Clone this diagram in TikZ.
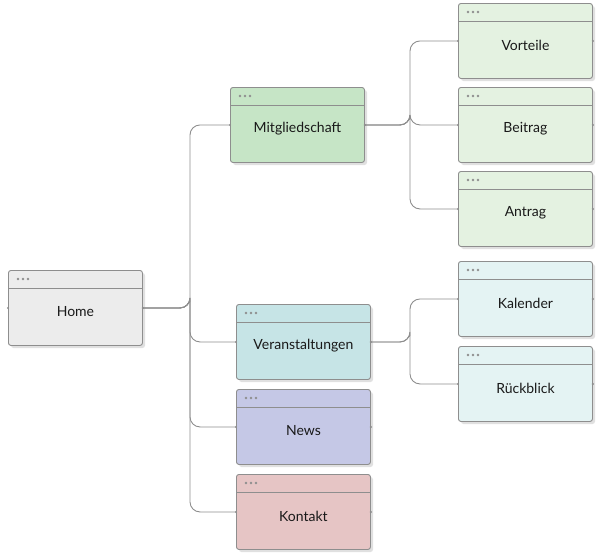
\documentclass[tikz,border=0pt]{standalone}
\usepackage{fontspec}
\setmainfont{Lato}
\begin{document}
\definecolor{cgray}{HTML}{ECECEC}
\definecolor{cgreen}{HTML}{C6E5C6}
\definecolor{clgreen}{HTML}{E4F2E1}
\definecolor{ccyan}{HTML}{C6E4E6}
\definecolor{clcyan}{HTML}{E4F3F3}
\definecolor{cnews}{HTML}{C5C8E6}
\definecolor{ckont}{HTML}{E6C5C5}
\definecolor{edge}{HTML}{8E8E8E}
\tikzset{
 box/.style={draw=edge,line width=0.9pt,rounded corners=2.5pt,minimum width=134pt,minimum height=75pt,inner sep=0pt},
 shadow/.style={fill=black!12,rounded corners=2.5pt,draw=none},
 lbl/.style={font=\fontsize{14}{16}\selectfont,text=black!90},
 conn/.style={draw=edge,line width=0.9pt,rounded corners=10pt},
 dot/.style={fill=edge,circle,inner sep=0pt,minimum size=2.4pt}
}
\newcommand{\webbox}[5]{%
 \fill[shadow] (#2+3,#3+3) rectangle ++(134,75);
 \node[box,fill=#4,anchor=north west] (#1) at (#2,#3) {};
 \draw[edge,line width=0.9pt] ([yshift=-18pt]#1.north west) -- ([yshift=-18pt]#1.north east);
 \foreach \i in {0,1,2} \fill[edge] ([xshift={10pt+\i*5pt},yshift=-9pt]#1.north west) circle (1.3pt);
 \node[lbl] (#1t) at ([yshift=-4pt]#1.center) {#5};
 \node[dot] at (#1.west) {};
 \node[dot] at (#1.east) {};
}
\begin{tikzpicture}[x=1pt,y=-1pt]
\useasboundingbox (0,0) rectangle (600,555);
\webbox{home}{8}{270}{cgray}{Home}
\webbox{mit}{230}{87}{cgreen}{Mitgliedschaft}
\webbox{ver}{236}{304}{ccyan}{Veranstaltungen}
\webbox{news}{236}{389}{cnews}{News}
\webbox{kon}{236}{474}{ckont}{Kontakt}
\webbox{vor}{458}{3}{clgreen}{Vorteile}
\webbox{bei}{458}{87}{clgreen}{Beitrag}
\webbox{ant}{458}{171}{clgreen}{Antrag}
\webbox{kal}{458}{261}{clcyan}{Kalender}
\webbox{rue}{458}{346}{clcyan}{Rückblick}
\coordinate (hb) at (190,0);
\foreach \t in {mit,ver,news,kon}
 \draw[conn] (home.east) -| (hb |- home.east) |- (\t.west);
\coordinate (mb) at (410,0);
\foreach \t in {vor,bei,ant}
 \draw[conn] (mit.east) -| (mb |- mit.east) |- (\t.west);
\foreach \t in {kal,rue}
 \draw[conn] (ver.east) -| (mb |- ver.east) |- (\t.west);
\end{tikzpicture}
\end{document}
